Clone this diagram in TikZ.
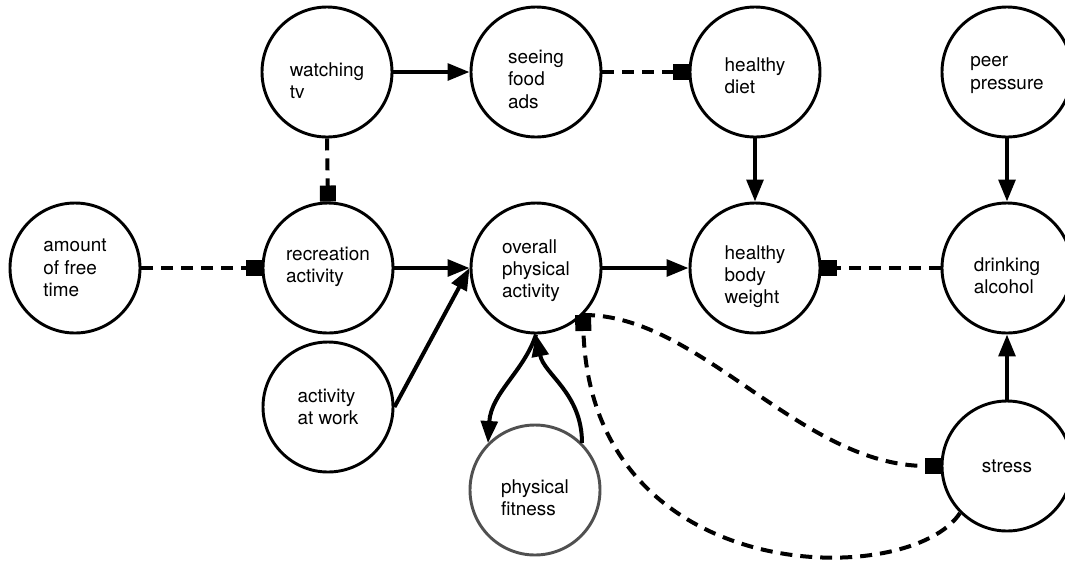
\documentclass[tikz,border=0pt]{standalone}
\usepackage{fontspec}
\setmainfont{TeX Gyre Heros}
\usetikzlibrary{arrows.meta}
\begin{document}
\begin{tikzpicture}[x=0.75pt,y=-0.75pt,
  var/.style={circle, draw, line width=2.2pt, minimum size=97.5pt, inner sep=0pt},
  txt/.style={align=left, inner sep=0pt, font=\fontsize{14.2}{16.8}\selectfont},
  cause/.style={line width=3pt, -{Triangle[length=16.5pt,width=12.5pt]}},
  inhib/.style={line width=3pt, dash pattern=on 9pt off 6pt, -{Square[length=12pt,width=12pt]}},
]
\useasboundingbox (0,0) rectangle (1065,562);
\clip (0,0) rectangle (1065,562);

\node[var] (tv) at (327,72) {};
\node[var] (ads) at (536,72) {};
\node[var] (diet) at (755,72) {};
\node[var] (peer) at (1007,72) {};
\node[var] (free) at (75,268) {};
\node[var] (rec) at (328,268) {};
\node[var] (over) at (536,268) {};
\node[var] (hbw) at (755,268) {};
\node[var] (alc) at (1007,268) {};
\node[var] (work) at (328,407) {};
\node[var, draw={rgb,255:red,80;green,80;blue,80}] (fit) at (535,490) {};
\node[var] (stress) at (1007,466) {};

\node[txt] (tvt) at ([yshift=-6.5pt]tv.center) {watching\\tv};
\node[txt] (adst) at ([yshift=-5.5pt]ads.center) {seeing\\food\\ads};
\node[txt] (diett) at ([yshift=-3pt]diet.center) {healthy\\diet};
\node[txt] (peert) at ([yshift=-2.2pt]peer.center) {peer\\pressure};
\node[txt] (freet) at (free.center) {amount\\of free\\time};
\node[txt] (rect) at ([yshift=1pt]rec.center) {recreation\\activity};
\node[txt] (overt) at ([yshift=-2pt]over.center) {overall\\physical\\activity};
\node[txt] (hbwt) at ([yshift=-6.5pt]hbw.center) {healthy\\body\\weight};
\node[txt] (alct) at ([yshift=-6pt]alc.center) {drinking\\alcohol};
\node[txt] (workt) at (work.center) {activity\\at work};
\node[txt] (fitt) at ([yshift=-6pt]fit.center) {physical\\fitness};
\node[txt] (stresst) at (stress.center) {stress};

\draw[cause] (tv.east) -- (ads.west);
\draw[inhib] (ads.east) -- (diet.west);
\draw[cause] (diet.south) -- (hbw.north);
\draw[cause] (peer.south) -- (alc.north);
\draw[inhib] (tv.south) -- (rec.north);
\draw[inhib] (free.east) -- (rec.west);
\draw[cause] (rec.east) -- (over.west);
\draw[cause] (work.east) -- (over.west);
\draw[cause] (over.east) -- (hbw.west);
\draw[inhib] (alc.west) -- (hbw.east);
\draw[cause] (stress.north) -- (alc.south);
\draw[cause] (over.south) .. controls +(-12,37) and +(3,-50) .. (fit.135);
\draw[cause] (fit.45) .. controls +(0,-50) and +(8,40) .. (over.south);
\draw[inhib] (over.-45) .. controls (700,314) and (800,466) .. (stress.west);
\draw[inhib] (stress.-135) .. controls (910,590) and (590,590) .. (over.-45);
\end{tikzpicture}
\end{document}
